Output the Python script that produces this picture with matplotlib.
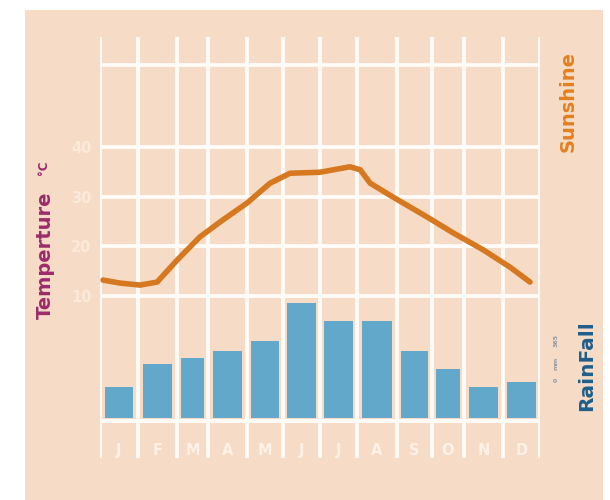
import numpy as np
import matplotlib
matplotlib.use("Agg")
import matplotlib.pyplot as plt
from matplotlib.patches import Rectangle

# ---- data ----
months = ["J", "F", "M", "A", "M", "J", "J", "A", "S", "O", "N", "D"]
rainfall = [31, 54, 60, 67, 77, 115, 97, 97, 67, 49, 31, 36]          # mm (relative)
# temperature curve samples: position along the month axis (0 = start of Jan, 12 = end of Dec)
temp_pos = [0.08, 0.53, 1.05, 1.49, 2.0, 2.74, 3.38, 4.0, 4.64, 5.19, 6.0,
            6.81, 7.08, 7.33, 7.9, 8.86, 9.66, 10.49, 11.19, 11.73]
temp_val = [13.2, 12.6, 12.2, 12.8, 17.2, 21.9, 25.3, 28.7, 32.7, 34.7, 34.9,
            36.0, 35.4, 32.7, 29.9, 25.9, 22.7, 19.3, 15.8, 12.8]
temp_ticks = [10, 20, 30, 40]

# ---- layout ----
W, H = 610, 500
cell_edges = np.array([100, 138, 177, 208, 247, 283, 320, 357, 397, 432, 464, 503, 540], float)
month_idx = np.arange(13, dtype=float)

BG = "#F6DCC6"
WHITE = "#FFFBF7"
BAR = "#62A8CA"
ORANGE = "#D6781F"

fig = plt.figure(figsize=(W / 100, H / 100), dpi=100, facecolor="white")
fig.patches.append(Rectangle((25 / W, 0), (603 - 25) / W, (H - 10) / H,
                             transform=fig.transFigure, facecolor=BG,
                             edgecolor="none", zorder=-10))

ax_top, ax_bot = 37, 458
ax = fig.add_axes([100 / W, 1 - ax_bot / H, 440 / W, (ax_bot - ax_top) / H])
ax.patch.set_alpha(0)

fwd = lambda m: np.interp(m, month_idx, cell_edges)
inv = lambda p: np.interp(p, cell_edges, month_idx)
ax.set_xscale("function", functions=(fwd, inv))
ax.set_xlim(0, 12)
zero_px = 418
ax.set_ylim(-(ax_bot - zero_px), zero_px - ax_top)

for s in ax.spines.values():
    s.set_visible(False)
ax.set_yticks([])
ax.tick_params(axis="x", length=0, pad=-10.5, labelsize=10.5, labelcolor="#FDF1E8")
ax.set_xticks(np.arange(12) + 0.5)
ax.set_xticklabels(months, fontweight="bold")
for lab in ax.get_xticklabels():
    lab.set_zorder(5)

# vertical white lines
for e in month_idx:
    ax.axvline(e, color=WHITE, lw=2.8, zorder=1, solid_capstyle="butt")
# top and bottom horizontal white lines
ax.axhline(zero_px - 65, color=WHITE, lw=2.8, zorder=1)
ax.axhline(-3, color=WHITE, lw=2.8, zorder=1)

ax.bar(np.arange(12) + 0.5, rainfall, width=0.76, color=BAR, zorder=2)

# temperature axis
tx = ax.twinx()
tx.set_position(ax.get_position())
for s in tx.spines.values():
    s.set_visible(False)
px_per_deg = 4.97
t_at = lambda px: 10 + (296 - px) / px_per_deg
tx.set_ylim(t_at(ax_bot), t_at(ax_top))
tx.yaxis.tick_left()
tx.set_yticks(temp_ticks)
tx.set_yticklabels([str(t) for t in temp_ticks], fontweight="bold")
tx.tick_params(axis="y", length=0, pad=6, labelsize=10.5, labelcolor="#FBE9DA")
for t in temp_ticks:
    tx.axhline(t, color=WHITE, lw=2.8, zorder=1)
tx.plot(temp_pos, temp_val, color=ORANGE, lw=4.0, solid_capstyle="round",
        solid_joinstyle="round", zorder=3)

# titles
fig.text(45 / W, 1 - 255 / H, "Temperture", rotation=90, ha="center", va="center",
         color="#9E2A6B", fontsize=14, fontweight="bold")
fig.text(44 / W, 1 - 168 / H, "°C", rotation=90, ha="center", va="center",
         color="#9E2A6B", fontsize=8.5, fontweight="bold")
fig.text(568 / W, 1 - 102 / H, "Sunshine", rotation=90, ha="center", va="center",
         color="#E3801F", fontsize=14, fontweight="bold")
fig.text(587 / W, 1 - 366 / H, "RainFall", rotation=90, ha="center", va="center",
         color="#1F5E8C", fontsize=14.5, fontweight="bold")
for lbl, ypx in [("365", 340), ("mm", 363), ("0", 380)]:
    fig.text(556 / W, 1 - ypx / H, lbl, rotation=90, ha="center", va="center",
             color="#8C98A4", fontsize=4.5, fontweight="bold")

fig.savefig("out.png", dpi=100, facecolor=fig.get_facecolor())
